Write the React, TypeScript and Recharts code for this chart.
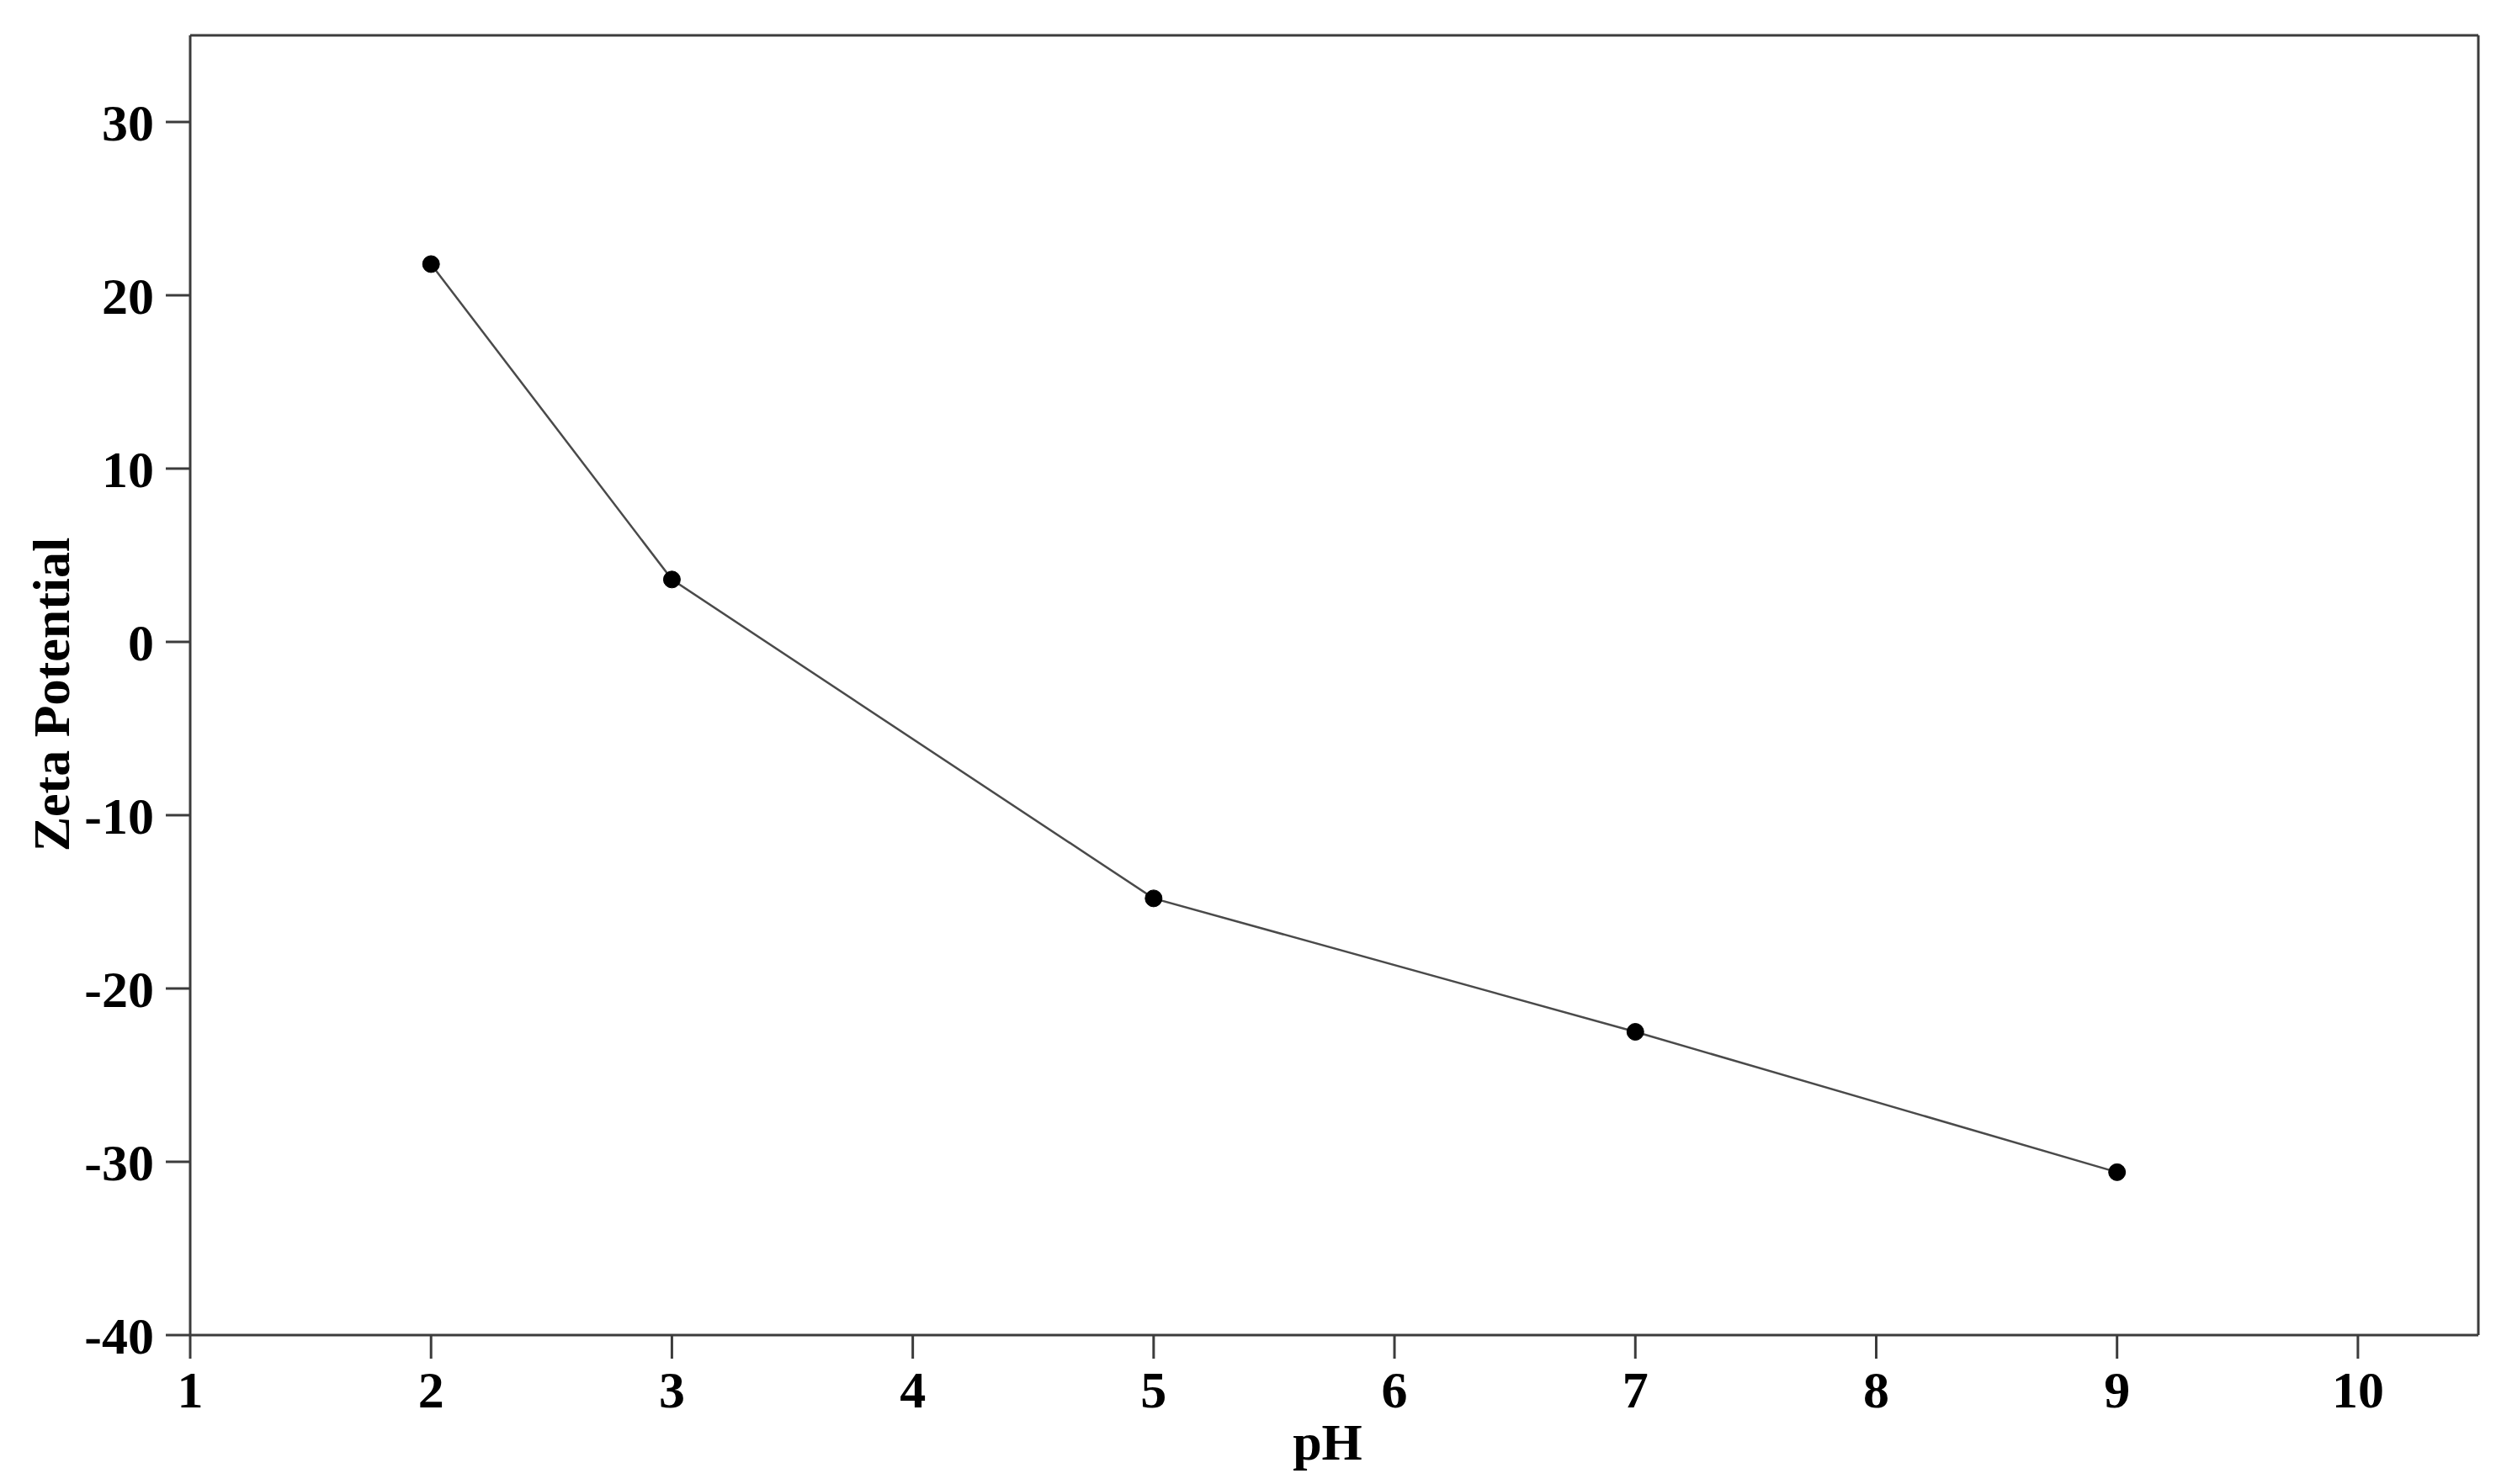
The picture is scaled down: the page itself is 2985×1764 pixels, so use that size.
import { LineChart, Line, XAxis, YAxis, ReferenceLine } from "recharts";

const phValues = [2, 3, 5, 7, 9];
const zetaValues = [21.8, 3.6, -14.8, -22.5, -30.6];
const xTicks = [1, 2, 3, 4, 5, 6, 7, 8, 9, 10];
const yTicks = [-40, -30, -20, -10, 0, 10, 20, 30];

const data = phValues.map((ph, i) => ({ ph, zeta: zetaValues[i] }));

const FONT = "'Liberation Serif', 'Times New Roman', serif";
const AXIS = "#3c3c3c";
const tickStyle = { fill: "#000", fontSize: 62, fontWeight: 700, fontFamily: FONT };

function YLabel({ viewBox }: any) {
  const x = viewBox.x + 82;
  const y = viewBox.y + viewBox.height / 2 + 11;
  return (
    <text
      x={x}
      y={y}
      transform={`rotate(-90, ${x}, ${y})`}
      textAnchor="middle"
      fill="#000"
      fontSize={62}
      fontWeight={700}
      fontFamily={FONT}
    >
      Zeta Potential
    </text>
  );
}

function XLabel({ viewBox }: any) {
  const x = viewBox.x + viewBox.width / 2 - 8;
  const y = viewBox.y + 148;
  return (
    <text x={x} y={y} textAnchor="middle" fill="#000" fontSize={62} fontWeight={700} fontFamily={FONT}>
      pH
    </text>
  );
}

export default function App() {
  return (
    <div style={{ position: "absolute", left: 0, top: 0, background: "#fff" }}>
      <LineChart width={2985} height={1764} data={data} margin={{ top: 42, right: 40, left: 0, bottom: 0 }}>
        <XAxis
          dataKey="ph"
          type="number"
          domain={[1, 10.5]}
          ticks={xTicks}
          height={177}
          tick={tickStyle}
          tickSize={28}
          tickMargin={14}
          axisLine={{ stroke: AXIS, strokeWidth: 3 }}
          tickLine={{ stroke: AXIS, strokeWidth: 3 }}
          label={<XLabel />}
          allowDataOverflow
        />
        <YAxis
          type="number"
          domain={[-40, 35]}
          ticks={yTicks}
          width={226}
          tick={tickStyle}
          tickSize={29}
          tickMargin={14}
          axisLine={{ stroke: AXIS, strokeWidth: 3 }}
          tickLine={{ stroke: AXIS, strokeWidth: 3 }}
          label={<YLabel />}
          allowDataOverflow
        />
        <ReferenceLine y={35} stroke={AXIS} strokeWidth={3} />
        <ReferenceLine x={10.5} stroke={AXIS} strokeWidth={3} />
        <Line
          dataKey="zeta"
          type="linear"
          stroke="#4a4a4a"
          strokeWidth={2.5}
          dot={{ r: 10, fill: "#000", stroke: "#000", strokeWidth: 1 }}
          activeDot={false}
          isAnimationActive={false}
        />
      </LineChart>
    </div>
  );
}
